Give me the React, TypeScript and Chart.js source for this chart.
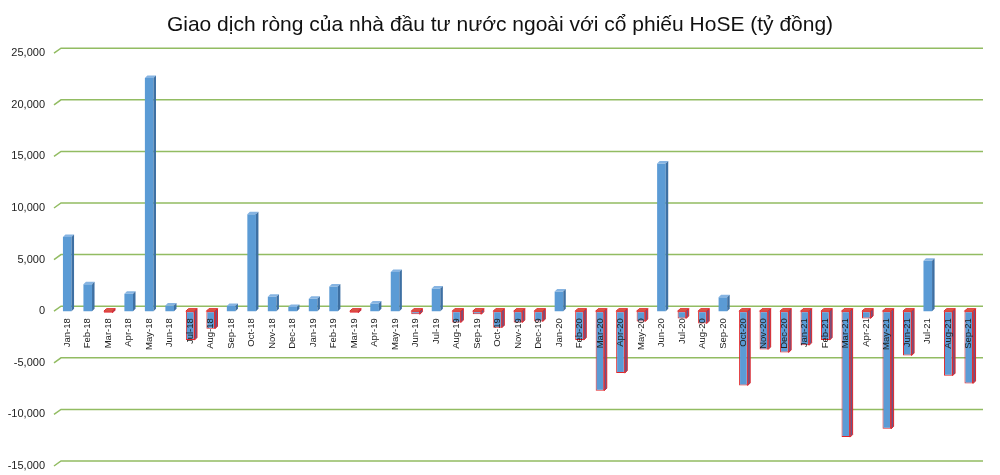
import { useEffect, useRef } from 'react'
import { Chart, registerables } from 'chart.js'

Chart.register(...registerables)

const TITLE = 'Giao dịch ròng của nhà đầu tư nước ngoài với cổ phiếu HoSE (tỷ đồng)'

const months = [
  'Jan-18','Feb-18','Mar-18','Apr-18','May-18','Jun-18','Jul-18','Aug-18','Sep-18','Oct-18','Nov-18','Dec-18',
  'Jan-19','Feb-19','Mar-19','Apr-19','May-19','Jun-19','Jul-19','Aug-19','Sep-19','Oct-19','Nov-19','Dec-19',
  'Jan-20','Feb-20','Mar-20','Apr-20','May-20','Jun-20','Jul-20','Aug-20','Sep-20','Oct-20','Nov-20','Dec-20',
  'Jan-21','Feb-21','Mar-21','Apr-21','May-21','Jun-21','Jul-21','Aug-21','Sep-21',
]

// giá trị mua/bán ròng (tỷ đồng)
const netValues = [
  7200, 2600, -150, 1700, 22600, 550, -2800, -1700, 500, 9400, 1400, 400,
  1200, 2400, -150, 750, 3800, -300, 2200, -1100, -300, -1600, -1100, -1000,
  1900, -2800, -7700, -6000, -1000, 14300, -700, -1200, 1350, -7200, -3700, -4000,
  -3300, -2800, -12200, -700, -11400, -4300, 4900, -6250, -7000,
]

const yMin = -15000
const yMax = 25000
const yStep = 5000

const FONT = '"Liberation Sans", Arial, sans-serif'
const GRID = '#92BC62'
const BLUE = '#5B9BD5'
const RED = '#E0262B'

// lưới vẽ ở "tường sau" (lệch 3D) như Excel
const backWall = {
  id: 'backWall',
  beforeDatasetsDraw(chart: Chart) {
    const { ctx, chartArea } = chart
    const y = chart.scales.y
    ctx.save()
    ctx.strokeStyle = GRID
    ctx.lineWidth = 1.5
    y.ticks.forEach(t => {
      const py = y.getPixelForValue(t.value)
      ctx.beginPath()
      ctx.moveTo(chartArea.left - 3, py)
      ctx.lineTo(chartArea.left + 4, py - 5)
      ctx.lineTo(chartArea.right + 4, py - 5)
      ctx.stroke()
    })
    ctx.restore()
  },
}

// mặt trên + mặt bên của cột 3D
const bar3d = {
  id: 'bar3d',
  afterDatasetsDraw(chart: Chart) {
    const { ctx } = chart
    const meta = chart.getDatasetMeta(0)
    const dx = 2.5, dy = 2.5
    ctx.save()
    meta.data.forEach((el: any, i) => {
      const { x, y, base, width } = el.getProps(['x', 'y', 'base', 'width'], true)
      const L = x - width / 2, R = x + width / 2
      const neg = netValues[i] < 0
      const top = neg ? base : y
      const bot = neg ? y : base
      // mặt trên
      ctx.beginPath()
      ctx.moveTo(L, top); ctx.lineTo(L + dx, top - dy); ctx.lineTo(R + dx, top - dy); ctx.lineTo(R, top); ctx.closePath()
      ctx.fillStyle = neg ? '#D2674A' : '#86B4E2'
      ctx.fill()
      if (neg) { ctx.strokeStyle = RED; ctx.lineWidth = 1; ctx.stroke() }
      // mặt bên
      ctx.beginPath()
      ctx.moveTo(R, top); ctx.lineTo(R + dx, top - dy); ctx.lineTo(R + dx, bot - dy); ctx.lineTo(R, bot); ctx.closePath()
      ctx.fillStyle = neg ? '#6A5688' : '#3E70A3'
      ctx.fill()
      if (neg) { ctx.strokeStyle = RED; ctx.lineWidth = 1; ctx.stroke() }
    })
    ctx.restore()
  },
}

function NetFlowChart() {
  const ref = useRef<HTMLCanvasElement>(null)
  const chart = useRef<Chart | null>(null)
  useEffect(() => {
    if (!ref.current) return
    chart.current?.destroy()
    chart.current = new Chart(ref.current, {
      type: 'bar',
      data: {
        labels: months,
        datasets: [{
          data: netValues,
          backgroundColor: BLUE,
          borderColor: RED,
          borderWidth: (c: any) => (netValues[c.dataIndex] < 0 ? 1 : 0),
          borderSkipped: false,
          barPercentage: 0.42,
          categoryPercentage: 1,
        }],
      },
      options: {
        responsive: true, maintainAspectRatio: false, animation: false,
        layout: { padding: { top: 0, right: 0, bottom: 9, left: 0 } },
        plugins: {
          legend: { display: false },
          tooltip: { enabled: false },
          title: {
            display: true, text: TITLE, color: '#111',
            font: { family: FONT, size: 21, weight: 'normal' },
            padding: { top: 13, bottom: 15 },
          },
        },
        scales: {
          x: {
            position: { y: 0 } as any,
            z: 1,
            grid: { display: false, drawTicks: false },
            border: { display: false },
            ticks: {
              z: 1,
              autoSkip: false, minRotation: 90, maxRotation: 90, padding: 7,
              color: '#222', font: { family: FONT, size: 9.5 },
            },
            afterFit: (s: any) => { s.height = 0 },
          },
          y: {
            min: yMin, max: yMax,
            grid: { display: false, drawTicks: false },
            border: { display: false },
            ticks: {
              stepSize: yStep, padding: 12, color: '#222',
              font: { family: FONT, size: 11 },
              callback: v => Number(v).toLocaleString('en-US'),
            },
            afterFit: (s: any) => { s.width = 57; s.paddingTop = 0; s.paddingBottom = 0 },
          },
          // trục phụ trống bên phải chỉ để giữ lề
          yRight: {
            position: 'right', min: yMin, max: yMax,
            grid: { display: false, drawTicks: false },
            border: { display: false },
            ticks: { display: false },
            afterFit: (s: any) => { s.width = 21; s.paddingTop = 0; s.paddingBottom = 0 },
          },
        },
      },
      plugins: [backWall, bar3d],
    })
    return () => { chart.current?.destroy() }
  }, [])
  return <div style={{ width: 1000, height: 475 }}><canvas ref={ref} /></div>
}

export default function App() {
  useEffect(() => { document.body.style.margin = '0' }, [])
  return <NetFlowChart />
}
